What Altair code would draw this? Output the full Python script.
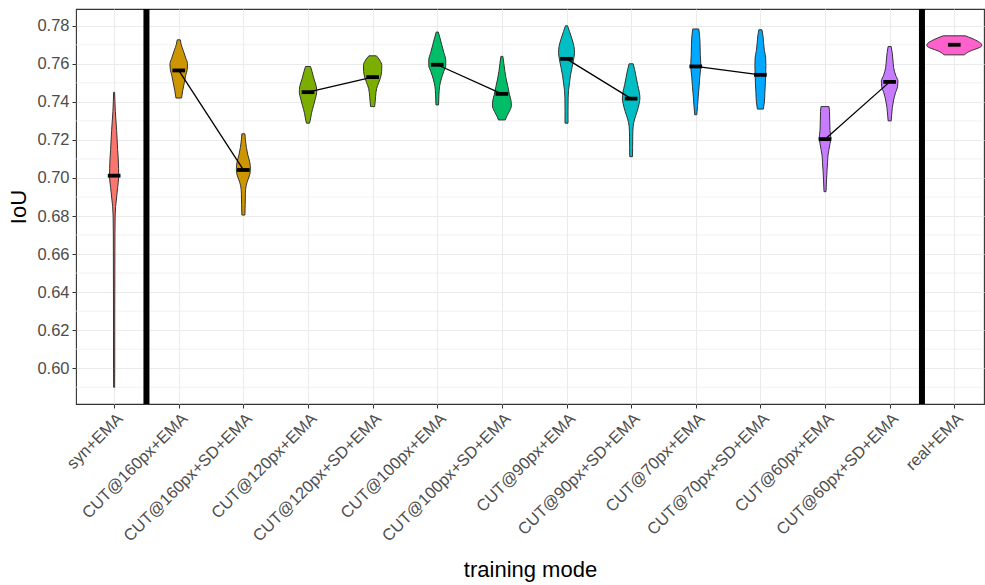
import altair as alt
import pandas as pd

# Training modes in plotting order (x positions 0..13)
modes = [
    "syn+EMA", "CUT@160px+EMA", "CUT@160px+SD+EMA", "CUT@120px+EMA",
    "CUT@120px+SD+EMA", "CUT@100px+EMA", "CUT@100px+SD+EMA", "CUT@90px+EMA",
    "CUT@90px+SD+EMA", "CUT@70px+EMA", "CUT@70px+SD+EMA", "CUT@60px+EMA",
    "CUT@60px+SD+EMA", "real+EMA",
]
groups = ["syn", "160px", "160px", "120px", "120px", "100px", "100px",
          "90px", "90px", "70px", "70px", "60px", "60px", "real"]
group_order = ["syn", "160px", "120px", "100px", "90px", "70px", "60px", "real"]
group_colors = ["#F8766D", "#CD9600", "#7CAE00", "#00BE67",
                "#00BFC4", "#00A9FF", "#C77CFF", "#FF61CC"]

# Median IoU of each mode
medians = [0.7012, 0.7565, 0.7042, 0.7451, 0.7530, 0.7595, 0.7442,
           0.7626, 0.7417, 0.7586, 0.7542, 0.7204, 0.7505, 0.7700]
# Modes joined by a line (same resolution, with / without SD)
pairs = [None, "160", "160", "120", "120", "100", "100",
         "90", "90", "70", "70", "60", "60", None]

# Violin outlines: (IoU, relative density) along each distribution
syn_ema = [(0.745, 0.5), (0.740, 0.8), (0.735, 1.2), (0.725, 2.5), (0.715, 3.5),
           (0.705, 4.5), (0.700, 4.5), (0.695, 3.5), (0.690, 2.5), (0.685, 1.5),
           (0.680, 1.0), (0.670, 0.8), (0.650, 0.7), (0.620, 0.6), (0.600, 0.6),
           (0.590, 0.5)]
cut160 = [(0.7726, 1.5), (0.770, 2.5), (0.767, 4.5), (0.763, 7.0), (0.760, 8.8),
          (0.757, 8.5), (0.754, 7.0), (0.750, 5.5), (0.746, 4.0), (0.742, 2.8)]
cut160_sd = [(0.7232, 1.5), (0.720, 2.0), (0.716, 3.0), (0.712, 4.5), (0.708, 6.5),
             (0.705, 7.0), (0.702, 6.5), (0.699, 4.5), (0.696, 2.8), (0.692, 2.0),
             (0.686, 1.8), (0.6805, 1.5)]
cut120 = [(0.7586, 2.5), (0.756, 4.0), (0.752, 6.0), (0.748, 8.3), (0.745, 8.7),
          (0.742, 7.5), (0.738, 5.5), (0.734, 3.5), (0.731, 2.5), (0.7288, 1.5)]
cut120_sd = [(0.7642, 3.7), (0.762, 7.0), (0.759, 9.2), (0.756, 9.0), (0.753, 8.0),
             (0.750, 6.0), (0.747, 4.0), (0.743, 3.0), (0.740, 2.5), (0.7375, 2.0)]
cut100 = [(0.7767, 1.0), (0.774, 2.5), (0.770, 4.5), (0.766, 6.5), (0.762, 8.5),
          (0.759, 8.5), (0.756, 6.5), (0.752, 4.0), (0.748, 2.3), (0.744, 1.7),
          (0.7384, 1.3)]
cut100_sd = [(0.7639, 1.0), (0.760, 2.0), (0.756, 3.0), (0.752, 4.3), (0.748, 6.0),
             (0.744, 7.5), (0.741, 9.0), (0.738, 9.5), (0.735, 7.5), (0.732, 4.5),
             (0.7305, 3.5)]
cut90 = [(0.780, 1.0), (0.777, 3.0), (0.773, 5.5), (0.769, 7.5), (0.766, 8.0),
         (0.762, 7.0), (0.758, 5.5), (0.754, 4.0), (0.750, 3.0), (0.746, 2.0),
         (0.742, 1.6), (0.735, 1.5), (0.7288, 1.5)]
cut90_sd = [(0.760, 2.0), (0.757, 3.5), (0.753, 5.0), (0.749, 6.5), (0.745, 8.2),
            (0.742, 8.8), (0.739, 8.0), (0.735, 6.0), (0.731, 3.5), (0.727, 2.0),
            (0.722, 1.6), (0.716, 1.5), (0.7112, 1.4)]
cut70 = [(0.7783, 3.0), (0.775, 3.8), (0.770, 4.3), (0.765, 4.5), (0.760, 5.0),
         (0.757, 4.8), (0.753, 4.0), (0.748, 3.3), (0.743, 2.5), (0.738, 1.8),
         (0.7332, 1.0)]
cut70_sd = [(0.7779, 1.5), (0.775, 2.5), (0.771, 3.2), (0.767, 4.0), (0.763, 5.3),
            (0.759, 5.5), (0.755, 5.3), (0.750, 5.0), (0.745, 4.5), (0.740, 4.0),
            (0.7362, 3.0)]
cut60 = [(0.7375, 4.0), (0.735, 4.5), (0.730, 4.7), (0.725, 5.0), (0.721, 5.8),
         (0.718, 5.0), (0.715, 4.0), (0.712, 3.0), (0.708, 2.5), (0.704, 2.0),
         (0.699, 1.5), (0.6928, 1.0)]
cut60_sd = [(0.7691, 1.5), (0.766, 2.5), (0.762, 3.3), (0.758, 4.0), (0.754, 6.0),
            (0.751, 8.3), (0.748, 8.0), (0.745, 6.0), (0.741, 4.0), (0.737, 2.7),
            (0.733, 2.0), (0.730, 1.5)]
real_ema = [(0.7747, 11.0), (0.7735, 17.0), (0.7720, 23.0), (0.7705, 27.0),
            (0.7695, 27.5), (0.7685, 25.0), (0.7675, 20.0), (0.7665, 15.0),
            (0.7655, 12.0), (0.7647, 10.0)]
profiles = [syn_ema, cut160, cut160_sd, cut120, cut120_sd, cut100, cut100_sd,
            cut90, cut90_sd, cut70, cut70_sd, cut60, cut60_sd, real_ema]

# Category boundaries marked with heavy separators
separators = [0.5, 12.5]
major_ticks = [0.60, 0.62, 0.64, 0.66, 0.68, 0.70, 0.72, 0.74, 0.76, 0.78]
minor_ticks = [0.59, 0.61, 0.63, 0.65, 0.67, 0.69, 0.71, 0.73, 0.75, 0.77]

DENSITY_SCALE = 1 / 64.7  # relative density -> category units
BAR_HALF = 0.098          # half-length of the median bar

violin_rows = []
for i, prof in enumerate(profiles):
    for iou, dens in prof:
        violin_rows.append({"mode": modes[i], "group": groups[i], "pos": i,
                            "iou": iou, "density": dens})
violins = pd.DataFrame(violin_rows)

summary = pd.DataFrame({"mode": modes, "pos": list(range(len(modes))),
                        "median": medians, "pair": pairs})
pairs_df = summary.dropna(subset=["pair"])

x_scale = alt.Scale(domain=[-0.59, 13.46], nice=False, zero=False)
y_scale = alt.Scale(domain=[0.5812, 0.7888], nice=False, zero=False)

label_list = ",".join("'" + m + "'" for m in modes)
x_axis = alt.Axis(
    values=list(range(len(modes))), labelExpr=f"[{label_list}][datum.value]",
    title="training mode", labelAngle=-45, labelAlign="right",
    labelBaseline="top", labelPadding=2, labelOverlap=False,
    titleY=172, titleBaseline="alphabetic",
)
y_axis = alt.Axis(values=major_ticks, format=".2f", title="IoU",
                  titleX=-58, titleBaseline="middle", labelPadding=3)

minor_grid = alt.Chart(pd.DataFrame({"v": minor_ticks})).mark_rule(
    color="#ebebeb", strokeWidth=0.7
).encode(y=alt.Y("v:Q", scale=y_scale, axis=y_axis))

sep_rules = alt.Chart(pd.DataFrame({"s": separators})).mark_rule(
    color="black", strokeWidth=6
).encode(x=alt.X("s:Q", scale=x_scale, axis=x_axis))

violin_layer = alt.Chart(violins).transform_calculate(
    xl=f"datum.pos - datum.density * {DENSITY_SCALE}",
    xr=f"datum.pos + datum.density * {DENSITY_SCALE}",
).mark_area(orient="horizontal", stroke="#333333", strokeWidth=1.0,
            interpolate="monotone").encode(
    y=alt.Y("iou:Q", scale=y_scale, axis=y_axis),
    x=alt.X("xl:Q", scale=x_scale, axis=x_axis, stack=None),
    x2="xr:Q",
    fill=alt.Fill("group:N", scale=alt.Scale(domain=group_order, range=group_colors),
                  legend=None),
    detail="mode:N",
)

pair_lines = alt.Chart(pairs_df).mark_line(color="black", strokeWidth=1.3).encode(
    x=alt.X("pos:Q", scale=x_scale, axis=x_axis),
    y=alt.Y("median:Q", scale=y_scale, axis=y_axis),
    detail="pair:N",
    order="pos:Q",
)

median_bars = alt.Chart(summary).transform_calculate(
    bl=f"datum.pos - {BAR_HALF}", br=f"datum.pos + {BAR_HALF}"
).mark_rule(color="black", strokeWidth=3.8).encode(
    x=alt.X("bl:Q", scale=x_scale, axis=x_axis),
    x2="br:Q",
    y=alt.Y("median:Q", scale=y_scale, axis=y_axis),
)

chart = alt.layer(
    minor_grid, sep_rules, violin_layer, pair_lines, median_bars
).properties(
    width=908, height=395,
    padding={"left": 76, "top": 9, "right": 1, "bottom": 181},
    autosize=alt.AutoSizeParams(type="none"),
).configure_view(
    stroke="#333333", strokeWidth=1.1
).configure_axis(
    grid=True, gridColor="#ebebeb", gridWidth=1.1, domain=False,
    tickColor="#333333", tickSize=4, tickWidth=1,
    labelColor="#4d4d4d", labelFont="Liberation Sans", labelFontSize=16.5,
    titleFont="Liberation Sans", titleFontSize=22, titleFontWeight="normal",
    titleColor="black",
)

chart.save("out.html", embed_options={"renderer": "svg", "actions": False})
